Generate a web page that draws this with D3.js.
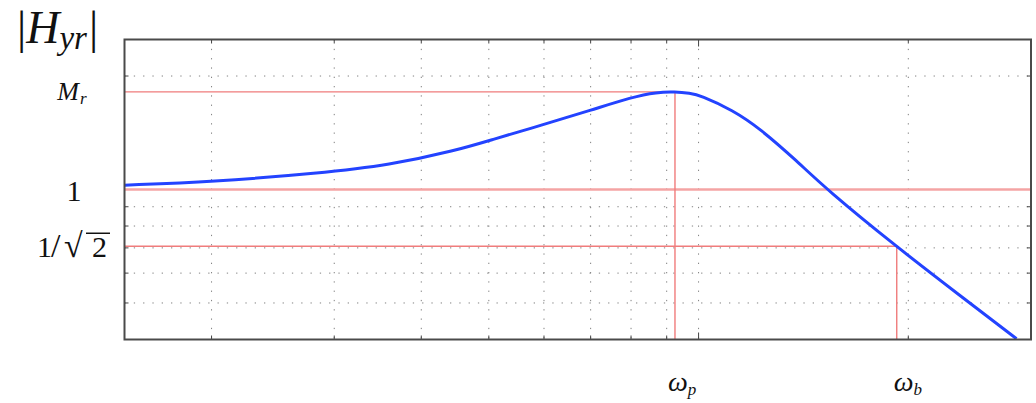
<!DOCTYPE html>
<html>
<head>
<meta charset="utf-8">
<script src="https://cdn.jsdelivr.net/npm/d3@7"></script>
<style>
  body { margin: 0; background: #fff; }
  text { font-family: "Liberation Serif", "DejaVu Serif", serif; fill: #111; }
</style>
</head>
<body>
<div id="chart"></div>
<script>
// samples of |Hyr|
let freq = [0.15, 0.2, 0.286, 0.36, 0.45, 0.502, 0.598, 0.701, 0.803, 0.871, 0.925, 0.972, 1.005, 1.12, 1.225, 1.385, 1.527, 1.925, 2.37, 2.86];
let mag  = [1.027, 1.047, 1.105, 1.16, 1.271, 1.351, 1.485, 1.623, 1.76, 1.812, 1.817, 1.80, 1.779, 1.623, 1.451, 1.189, 1.0, 0.704, 0.524, 0.402];

// grid lines (log axes)
let xGrid = [0.2, 0.3, 0.4, 0.5, 0.6, 0.7, 0.8, 0.9, 1, 2];
let yGrid = [0.5, 0.6, 0.7, 0.8, 0.9, 1, 2];

// marked points
let peakFreq = 0.925, peakMag = 1.815;
let bandFreq = 1.925, bandMag = 0.707;
let unityMag = 1;

let width = 1036, height = 403;
let plot = {left: 124.5, right: 1031, top: 39.5, bottom: 339.5};

let svg = d3.select("#chart")
  .append("svg")
  .attr("width", width)
  .attr("height", height);

let x = d3.scaleLog().domain([0.15, 3]).range([plot.left, plot.right]);
let y = d3.scaleLog().domain([0.4, 2.5]).range([plot.bottom, plot.top]);

svg.append("clipPath").attr("id", "clip")
  .append("rect")
  .attr("x", plot.left).attr("y", plot.top)
  .attr("width", plot.right - plot.left)
  .attr("height", plot.bottom - plot.top);

// dotted grid
svg.append("g").selectAll("line").data(xGrid).enter().append("line")
  .attr("x1", d => x(d)).attr("x2", d => x(d))
  .attr("y1", plot.top).attr("y2", plot.bottom)
  .attr("stroke", "#808080").attr("stroke-width", 1)
  .attr("stroke-dasharray", "1.3,8");

svg.append("g").selectAll("line").data(yGrid).enter().append("line")
  .attr("x1", plot.left).attr("x2", plot.right)
  .attr("y1", d => y(d)).attr("y2", d => y(d))
  .attr("stroke", "#808080").attr("stroke-width", 1)
  .attr("stroke-dasharray", "1.3,8");

// small ticks on the frame
let ticks = svg.append("g").attr("stroke", "#444").attr("stroke-width", 1);
xGrid.forEach(function(d) {
  let len = d == 1 ? 7 : 4;
  ticks.append("line").attr("x1", x(d)).attr("x2", x(d)).attr("y1", plot.bottom).attr("y2", plot.bottom - len);
  ticks.append("line").attr("x1", x(d)).attr("x2", x(d)).attr("y1", plot.top).attr("y2", plot.top + len);
});
yGrid.forEach(function(d) {
  let len = d == 1 ? 7 : 4;
  ticks.append("line").attr("x1", plot.left).attr("x2", plot.left + len).attr("y1", y(d)).attr("y2", y(d));
  ticks.append("line").attr("x1", plot.right).attr("x2", plot.right - len).attr("y1", y(d)).attr("y2", y(d));
});

// red marker lines
let red = svg.append("g").attr("stroke", "#f07c7c").attr("fill", "none");
red.append("line")
  .attr("x1", plot.left).attr("x2", plot.right)
  .attr("y1", y(unityMag)).attr("y2", y(unityMag))
  .attr("stroke", "#f4a4a4").attr("stroke-width", 2.5);
red.append("path")
  .attr("stroke-width", 1.4)
  .attr("d", `M${plot.left},${y(peakMag)}H${x(peakFreq)}V${plot.bottom}`);
red.append("path")
  .attr("stroke-width", 1.4)
  .attr("d", `M${plot.left},${y(bandMag)}H${x(bandFreq)}V${plot.bottom}`);

// response curve
let line = d3.line()
  .x((d, i) => x(freq[i]))
  .y((d, i) => y(mag[i]))
  .curve(d3.curveBasis);

svg.append("path")
  .datum(mag)
  .attr("clip-path", "url(#clip)")
  .attr("fill", "none")
  .attr("stroke", "#2343ff")
  .attr("stroke-width", 3)
  .attr("d", line);

// frame
svg.append("rect")
  .attr("x", plot.left).attr("y", plot.top)
  .attr("width", plot.right - plot.left)
  .attr("height", plot.bottom - plot.top)
  .attr("fill", "none")
  .attr("stroke", "#4a4a4a")
  .attr("stroke-width", 2);

// y label
let ylab = svg.append("text").attr("x", 17).attr("y", 43).style("font-size", "46px");
ylab.append("tspan").text("|");
ylab.append("tspan").style("font-style", "italic").text("H");
ylab.append("tspan").style("font-style", "italic").style("font-size", "33px").attr("dy", 6).text("yr");
ylab.append("tspan").attr("dy", -6).attr("dx", 2).text("|");

// y tick labels
let mr = svg.append("text").attr("x", 72).attr("y", y(peakMag) + 8)
  .attr("text-anchor", "middle").style("font-size", "26px").style("font-style", "italic");
mr.append("tspan").text("M");
mr.append("tspan").style("font-size", "17px").attr("dy", 4).attr("dx", 1).text("r");

svg.append("text").attr("x", 74).attr("y", y(unityMag) + 11)
  .attr("text-anchor", "middle").style("font-size", "30px").text("1");

let sqY = y(bandMag) + 11;
let sq = svg.append("text").attr("y", sqY).style("font-size", "30px");
sq.append("tspan").attr("x", 37).text("1");
sq.append("tspan").attr("x", 51).style("font-size", "34px").text("/");
sq.append("tspan").attr("x", 64).style("font-size", "34px").text("√");
sq.append("tspan").attr("x", 92).text("2");
svg.append("line")
  .attr("x1", 86).attr("x2", 110)
  .attr("y1", sqY - 24).attr("y2", sqY - 24)
  .attr("stroke", "#111").attr("stroke-width", 1.5);

// x tick labels
let wp = svg.append("text").attr("x", x(peakFreq) - 7).attr("y", 391)
  .style("font-size", "28px").style("font-style", "italic");
wp.append("tspan").text("ω");
wp.append("tspan").style("font-size", "17px").attr("dy", 4).text("p");

let wb = svg.append("text").attr("x", x(bandFreq) - 3).attr("y", 391)
  .style("font-size", "28px").style("font-style", "italic");
wb.append("tspan").text("ω");
wb.append("tspan").style("font-size", "17px").attr("dy", 4).text("b");
</script>
</body>
</html>
